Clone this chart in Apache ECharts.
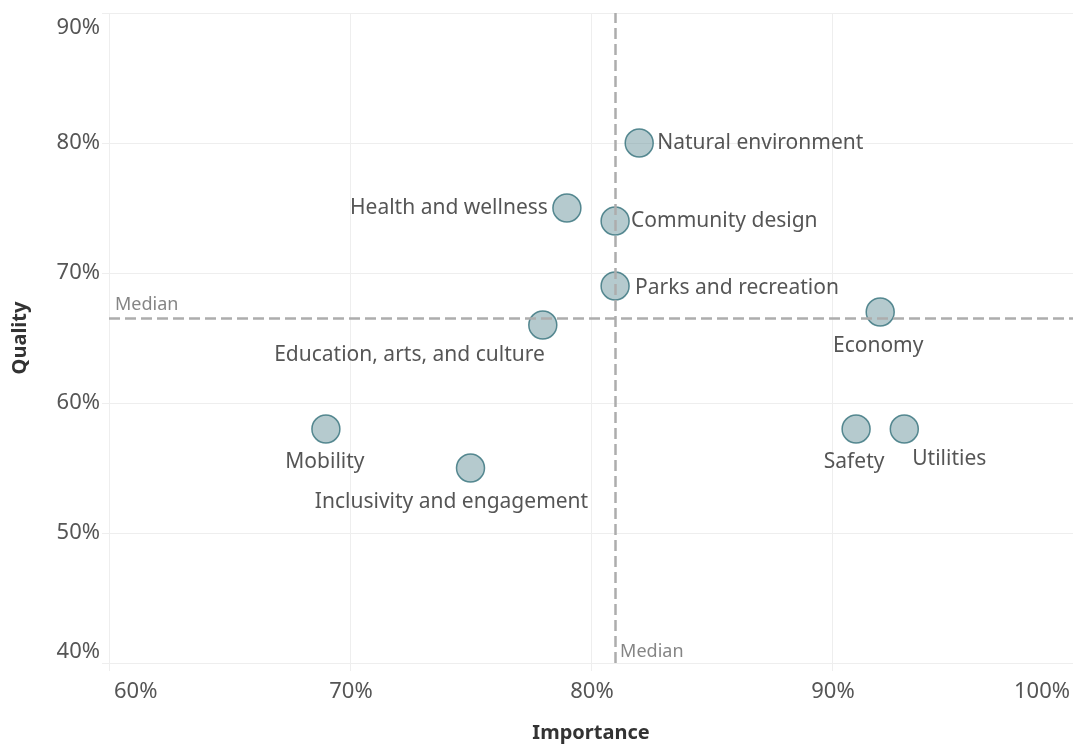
<!DOCTYPE html>
<html>
<head>
<meta charset="utf-8">
<script src="https://cdn.jsdelivr.net/npm/echarts@6/dist/echarts.min.js"></script>
<style>
  html, body { margin: 0; padding: 0; background: #fff; }
  #chart { width: 1073px; height: 745px; }
</style>
</head>
<body>
<div id="chart"></div>
<script>
// categories and values (percent)
var categories = ['Natural environment', 'Health and wellness', 'Community design', 'Parks and recreation',
  'Education, arts, and culture', 'Economy', 'Mobility', 'Inclusivity and engagement', 'Safety', 'Utilities'];
var importance = [82, 79, 81, 81, 78, 92, 69, 75, 91, 93];
var quality = [80, 75, 74, 69, 66, 67, 58, 55, 58, 58];

// label placement per point (style only)
var labelLayout = {
  'Natural environment': { align: 'left', offset: [18, 0] },
  'Health and wellness': { align: 'right', offset: [-19, 0] },
  'Community design': { align: 'left', offset: [16, 0] },
  'Parks and recreation': { align: 'left', offset: [20, 2] },
  'Education, arts, and culture': { align: 'right', offset: [2, 30] },
  'Economy': { align: 'center', offset: [-2, 34] },
  'Mobility': { align: 'center', offset: [-1, 33] },
  'Inclusivity and engagement': { align: 'center', offset: [-19, 34] },
  'Safety': { align: 'center', offset: [-2, 33] },
  'Utilities': { align: 'center', offset: [45, 30] }
};

function median(arr) {
  var s = arr.slice().sort(function (a, b) { return a - b; });
  var m = Math.floor(s.length / 2);
  return s.length % 2 ? s[m] : (s[m - 1] + s[m]) / 2;
}
var medX = median(importance);
var medY = median(quality);

var font = "'Noto Sans', sans-serif";

var points = categories.map(function (c, i) {
  var l = labelLayout[c];
  return {
    name: c,
    value: [importance[i], quality[i]],
    label: { align: l.align, offset: l.offset }
  };
});

var medianLabel = { show: true, formatter: 'Median', position: ['50%', '50%'], align: 'left', verticalAlign: 'middle', fontFamily: font, fontSize: 18, color: '#666' };

var chart = echarts.init(document.getElementById('chart'));
chart.setOption({
  animation: false,
  backgroundColor: '#fff',
  grid: { left: 109, right: 0, top: 13, bottom: 82, outerBoundsMode: 'none', containLabel: false },
  xAxis: {
    type: 'value', min: 60, max: 100, interval: 10,
    name: 'Importance', nameLocation: 'middle', nameGap: 60,
    nameTextStyle: { fontFamily: font, fontSize: 20, fontWeight: 'bold', color: '#333' },
    axisLine: { show: false },
    axisTick: { show: true, length: 8, lineStyle: { color: '#eeeeee' } },
    splitLine: { show: true, lineStyle: { color: '#eeeeee', width: 1 } },
    axisLabel: {
      formatter: '{value}%', fontFamily: font, fontSize: 22, color: '#555', margin: 18,
      alignMinLabel: 'left', alignMaxLabel: 'right', padding: [0, 3, 0, 5]
    }
  },
  yAxis: {
    type: 'value', min: 40, max: 90, interval: 10,
    name: 'Quality', nameLocation: 'middle', nameGap: 79, nameRotate: 90,
    nameTextStyle: { fontFamily: font, fontSize: 20, fontWeight: 'bold', color: '#333' },
    axisLine: { show: false },
    axisTick: { show: true, length: 7, lineStyle: { color: '#eeeeee' } },
    splitLine: { show: true, lineStyle: { color: '#eeeeee', width: 1 } },
    axisLabel: {
      formatter: '{value}%', fontFamily: font, fontSize: 22, color: '#555', margin: 9,
      verticalAlignMinLabel: 'bottom', verticalAlignMaxLabel: 'top', padding: [4, 0, 0, 0]
    }
  },
  series: [
    {
      type: 'scatter',
      symbolSize: 0,
      silent: true,
      data: [
        { value: [60, medY], label: Object.assign({}, medianLabel, { offset: [6, -14] }) },
        { value: [medX, 40], label: Object.assign({}, medianLabel, { offset: [5, -11] }) }
      ],
      markLine: {
        silent: true,
        symbol: 'none',
        label: { show: false },
        lineStyle: { color: '#adadad', width: 2.5, type: [11, 5] },
        data: [{ xAxis: medX }, { yAxis: medY }]
      }
    },
    {
      type: 'scatter',
      symbolSize: 28,
      itemStyle: { color: 'rgba(100,145,152,0.6)', borderColor: '#33707a', borderWidth: 1.5 },
      label: {
        show: true, position: ['50%', '50%'], verticalAlign: 'middle', formatter: '{b}',
        fontFamily: font, fontSize: 21, color: '#2a2a2a'
      },
      data: points
    }
  ]
});
</script>
</body>
</html>
